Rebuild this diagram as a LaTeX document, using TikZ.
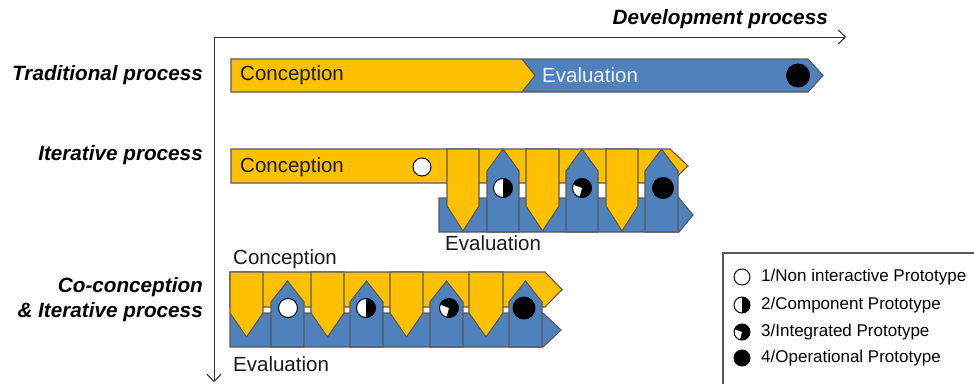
\documentclass[tikz,border=0pt]{standalone}
\usepackage{fontspec}
\setmainfont{Liberation Sans}
\usetikzlibrary{arrows.meta}
\definecolor{yel}{HTML}{FFC000}
\definecolor{blu}{HTML}{4F81BD}
\definecolor{edge}{HTML}{595959}
\definecolor{txtlight}{HTML}{F2F2F2}
\newcommand{\YDn}[5]{\draw[ypiece] (#1,#3) -- (#2,#3) -- (#2,#4) -- ({(#1+#2)/2},#5) -- (#1,#4) -- cycle;}
\newcommand{\BUp}[5]{\draw[bpiece] (#1,#3) -- (#2,#3) -- (#2,#4) -- ({(#1+#2)/2},#5) -- (#1,#4) -- cycle;}
\newcommand{\BallEmpty}[3]{\draw[ballline,fill=white] (#1,#2) circle (#3);}
\newcommand{\BallHalf}[3]{\fill[white] (#1,#2) circle (#3); \fill[black] (#1,#2) ++(90:#3) arc (90:-90:#3) -- cycle; \draw[ballline] (#1,#2) circle (#3);}
\newcommand{\BallThree}[3]{\fill[black] (#1,#2) circle (#3); \fill[white] (#1,#2) -- ++(105:#3) arc (105:200:#3) -- cycle; \draw[ballline] (#1,#2) circle (#3);}
\newcommand{\BallFull}[3]{\draw[ballline,fill=black] (#1,#2) circle (#3);}
\begin{document}
\begin{tikzpicture}[x=1pt,y=-1pt,
  ypiece/.style={fill=yel,draw=edge,line width=1.1pt,line join=miter},
  bpiece/.style={fill=blu,draw=edge,line width=1.1pt,line join=miter},
  ballline/.style={draw=black,line width=1pt},
  rowlabel/.style={font=\bfseries\itshape\fontsize{20.7}{24}\selectfont,anchor=east,inner sep=0pt},
  bartext/.style={font=\fontsize{20.5}{24}\selectfont,anchor=west,inner sep=0pt},
  legtext/.style={font=\fontsize{17}{20}\selectfont,anchor=west,inner sep=0pt},
  axisarrow/.style={draw=black!80,line width=0.9pt,-{Straight Barb[length=7pt,width=14pt]}}]
\useasboundingbox (0,0) rectangle (974,383);
\begin{scope}
\clip (0,0) rectangle (974,383);
% axes
\coordinate (origin) at (214,37);
\coordinate (xend) at (846,37);
\coordinate (yend) at (214,382);
\draw[axisarrow] (origin) -- (xend);
\draw[axisarrow] (origin) -- (yend);
\node[rowlabel] (devlabel) at (828,19) {Development process};

% Traditional
\node[rowlabel] (tradlabel) at (203,75) {Traditional process};
\draw[bpiece] (522,59) -- (808,59) -- (823,75.5) -- (808,92) -- (522,92) -- cycle;
\draw[ypiece] (231,59) -- (522,59) -- (535,75.5) -- (522,92) -- (231,92) -- cycle;
\node[bartext,text=black!90] (tradconc) at (240,75) {Conception};
\node[bartext,text=txtlight] (tradeval) at (542,75) {Evaluation};
\BallFull{798}{75.5}{11.5}

% Iterative
\node[rowlabel] (iterlabel) at (203,155) {Iterative process};
\draw[ypiece] (231,149) -- (670,149) -- (688,166) -- (670,183) -- (231,183) -- cycle;
\draw[bpiece] (439,198) -- (679,198) -- (693,215) -- (679,232) -- (439,232) -- cycle;
\YDn{447}{479}{149}{206}{231}
\YDn{526}{559}{149}{206}{231}
\YDn{606}{638}{149}{206}{231}
\BUp{487}{519}{232}{171}{149}
\BUp{566}{598}{232}{171}{149}
\BUp{645}{678}{232}{171}{149}
\node[bartext,text=black!90] (iterconc) at (240,167) {Conception};
\node[bartext,text=black!90] (itereval) at (445,243) {Evaluation};
\BallEmpty{422}{167}{9}
\BallHalf{503}{188}{9.5}
\BallThree{582}{188}{9.5}
\BallFull{663}{188}{10.5}

% Co-conception
\node[rowlabel] (colabelA) at (203,287) {Co-conception};
\node[rowlabel] (colabelB) at (203,312) {\& Iterative process};
\draw[ypiece] (230,272) -- (545,272) -- (562,289.5) -- (545,307) -- (230,307) -- cycle;
\draw[bpiece] (230,313) -- (543,313) -- (561,330) -- (543,347) -- (230,347) -- cycle;
\YDn{230}{263}{272}{313}{337}
\YDn{311}{344}{272}{313}{337}
\YDn{390}{423}{272}{313}{337}
\YDn{469}{503}{272}{313}{337}
\BUp{271}{304}{347}{302}{281}
\BUp{350}{383}{347}{302}{281}
\BUp{430}{463}{347}{302}{281}
\BUp{509}{542}{347}{302}{281}
\node[bartext,text=black!90] (coconc) at (233,259) {Conception};
\node[bartext,text=black!90] (coeval) at (233,364) {Evaluation};
\BallEmpty{288}{308}{9.5}
\BallHalf{366}{308}{9.5}
\BallThree{449}{308}{9.5}
\BallFull{524}{308}{11}

% Legend
\draw[draw=edge,line width=1.2pt,fill=white] (723,253) rectangle (990,400);
\BallEmpty{742}{277}{8}
\BallHalf{742}{305}{8}
\BallThree{742}{332}{8}
\BallFull{742}{358}{8}
\node[legtext] (legA) at (761,277) {1/Non interactive Prototype};
\node[legtext] (legB) at (761,305) {2/Component Prototype};
\node[legtext] (legC) at (761,332) {3/Integrated Prototype};
\node[legtext] (legD) at (761,358) {4/Operational Prototype};
\end{scope}
\end{tikzpicture}
\end{document}
